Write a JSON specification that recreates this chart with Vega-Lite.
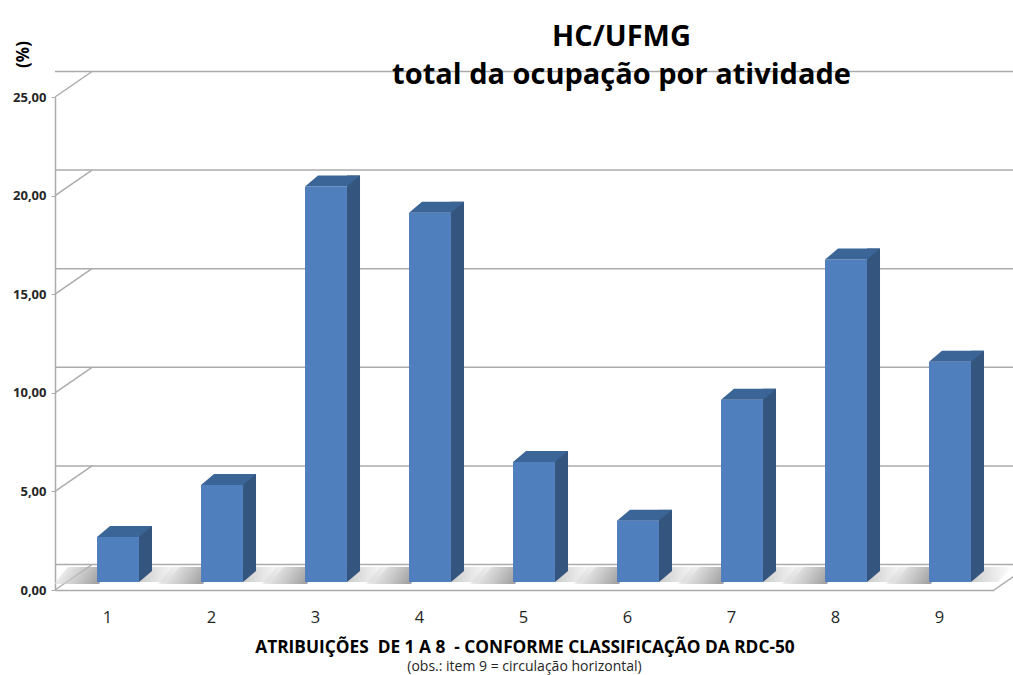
{
  "$schema": "https://vega.github.io/schema/vega-lite/v6.json",
  "autosize": {"type": "none"},
  "padding": {"left": 55, "top": 97, "right": 19, "bottom": 85},
  "width": 939,
  "height": 493,
  "background": "#ffffff",
  "title": {
    "text": ["HC/UFMG", "total da ocupação por atividade"],
    "font": "Open Sans",
    "fontSize": 29,
    "fontWeight": "bold",
    "color": "#000000",
    "lineHeight": 38,
    "anchor": "middle",
    "dx": 97,
    "offset": -49
  },
  "datasets": {
    "ocupacao": [
      {"item": 1, "pct": 2.28},
      {"item": 2, "pct": 4.92},
      {"item": 3, "pct": 20.05},
      {"item": 4, "pct": 18.73},
      {"item": 5, "pct": 6.09},
      {"item": 6, "pct": 3.10},
      {"item": 7, "pct": 9.24},
      {"item": 8, "pct": 16.35},
      {"item": 9, "pct": 11.17}
    ],
    "grade": [
      {"g": 0}, {"g": 5}, {"g": 10}, {"g": 15}, {"g": 20}, {"g": 25}
    ],
    "nota": [
      {"texto": "(obs.: item 9 = circulação horizontal)"}
    ]
  },
  "config": {
    "view": {"stroke": null},
    "font": "Open Sans"
  },
  "layer": [
    {
      "data": {"name": "grade"},
      "mark": {"type": "rule", "color": "#ababab", "strokeWidth": 1.5, "xOffset": 37, "x2Offset": 37, "yOffset": -25.5},
      "encoding": {
        "y": {
          "field": "g",
          "type": "quantitative",
          "scale": {"domain": [0, 25], "nice": false},
          "axis": {
            "values": [0, 5, 10, 15, 20, 25],
            "labelExpr": "replace(format(datum.value, '.2f'), '.', ',')",
            "grid": false,
            "domainColor": "#ababab",
            "domainWidth": 1.5,
            "tickColor": "#ababab",
            "tickSize": 4,
            "labelPadding": 5,
            "labelFont": "Open Sans",
            "labelFontSize": 13,
            "labelFontWeight": "bold",
            "labelColor": "#262626",
            "title": "(%)",
            "titleFont": "Open Sans",
            "titleFontSize": 17,
            "titleFontWeight": "bold",
            "titleColor": "#000000",
            "titleAngle": 270,
            "titleAlign": "center",
            "titleBaseline": "middle",
            "titleX": -32,
            "titleY": -43
          }
        }
      }
    },
    {
      "data": {"name": "grade"},
      "mark": {"type": "rule", "color": "#ababab", "strokeWidth": 1.5, "x2Offset": 37, "y2Offset": -25.5},
      "encoding": {
        "x": {
          "datum": 0.394,
          "type": "quantitative",
          "scale": {"domain": [0.394, 9.423], "nice": false, "zero": false, "padding": 0},
          "axis": {
            "values": [1, 2, 3, 4, 5, 6, 7, 8, 9],
            "format": "d",
            "ticks": false,
            "grid": false,
            "domainColor": "#ababab",
            "domainWidth": 1.5,
            "labelOffset": -11,
            "labelPadding": 19,
            "labelFontSize": 16.5,
            "labelColor": "#262626",
            "labelFont": "Open Sans",
            "title": "ATRIBUIÇÕES \u00a0DE 1 A 8 \u00a0- CONFORME CLASSIFICAÇÃO DA RDC-50",
            "titleFont": "Open Sans",
            "titleFontSize": 17.3,
            "titleFontWeight": "bold",
            "titleColor": "#000000",
            "titlePadding": 13
          }
        },
        "x2": {"datum": 0.394},
        "y": {"field": "g", "type": "quantitative"},
        "y2": {"field": "g"}
      }
    },
    {
      "data": {"values": [{"canto": "direito"}]},
      "mark": {"type": "rule", "color": "#ababab", "strokeWidth": 1.5, "x2Offset": 37, "y2Offset": -25.5},
      "encoding": {
        "x": {"datum": 9.423, "type": "quantitative"},
        "x2": {"datum": 9.423},
        "y": {"datum": 0, "type": "quantitative"},
        "y2": {"datum": 0}
      }
    },
    {
      "data": {"name": "ocupacao"},
      "layer": [
        {
          "mark": {
            "type": "point",
            "shape": "M-19,2 L-64,2 L-50,-15 L-8,-15 Z",
            "size": 4,
            "filled": true,
            "opacity": 0.7,
            "strokeWidth": 0,
            "yOffset": -8,
            "color": {
              "gradient": "linear",
              "x1": 0, "y1": 0, "x2": 1, "y2": 0.2,
              "stops": [
                {"offset": 0, "color": "#ffffff"},
                {"offset": 0.55, "color": "#b4b4b4"},
                {"offset": 1, "color": "#6e6e6e"}
              ]
            }
          },
          "encoding": {
            "x": {"field": "item", "type": "quantitative"},
            "y": {"datum": 0, "type": "quantitative"}
          }
        },
        {
          "mark": {
            "type": "point",
            "shape": "M21,0 L34,-15 L62,-15 L48,0 Z",
            "size": 4,
            "filled": true,
            "opacity": 0.5,
            "strokeWidth": 0,
            "yOffset": -8,
            "color": {
              "gradient": "linear",
              "x1": 0, "y1": 0, "x2": 1, "y2": 0,
              "stops": [
                {"offset": 0, "color": "#9a9a9a"},
                {"offset": 1, "color": "#ffffff"}
              ]
            }
          },
          "encoding": {
            "x": {"field": "item", "type": "quantitative"},
            "y": {"datum": 0, "type": "quantitative"}
          }
        },
        {
          "mark": {"type": "bar", "width": 13, "color": "#34557e", "xOffset": 27.5, "yOffset": -19, "y2Offset": -19},
          "encoding": {
            "x": {"field": "item", "type": "quantitative"},
            "y": {"field": "pct", "type": "quantitative"}
          }
        },
        {
          "mark": {"type": "point", "shape": "M21,0 L21,-11 L34,-11 Z", "size": 4, "filled": true, "opacity": 1, "strokeWidth": 0, "color": "#34557e", "yOffset": -8},
          "encoding": {
            "x": {"field": "item", "type": "quantitative"},
            "y": {"datum": 0, "type": "quantitative"}
          }
        },
        {
          "mark": {"type": "bar", "width": 42, "color": "#4f80bd", "yOffset": -8, "y2Offset": -8},
          "encoding": {
            "x": {"field": "item", "type": "quantitative"},
            "y": {"field": "pct", "type": "quantitative"}
          }
        },
        {
          "mark": {"type": "point", "shape": "M-21,0 L21,0 L34,-11 L-8,-11 Z", "size": 4, "filled": true, "opacity": 1, "strokeWidth": 0, "color": "#3b6597", "yOffset": -8},
          "encoding": {
            "x": {"field": "item", "type": "quantitative"},
            "y": {"field": "pct", "type": "quantitative"}
          }
        }
      ]
    },
    {
      "data": {"name": "nota"},
      "mark": {"type": "text", "font": "Open Sans", "fontSize": 14, "color": "#262626", "align": "center", "baseline": "middle", "yOffset": 77},
      "encoding": {
        "x": {"datum": 4.9085, "type": "quantitative"},
        "y": {"datum": 0, "type": "quantitative"},
        "text": {"field": "texto"}
      }
    }
  ]
}
